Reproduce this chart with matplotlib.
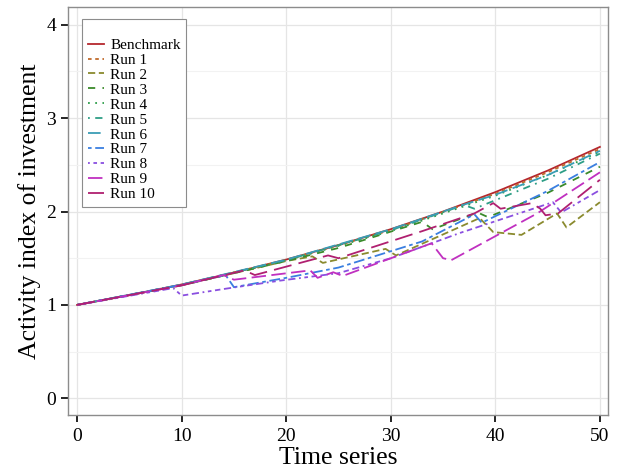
import numpy as np
import matplotlib.pyplot as plt

plt.rcParams['font.family'] = ['Liberation Serif', 'DejaVu Serif']

# data: (time, activity index) breakpoints
bench_t = [0, 5, 10, 15, 20, 25, 30, 35, 40, 45, 50]
bench_v = [1.00, 1.104, 1.219, 1.346, 1.486, 1.641, 1.811, 2.000, 2.208, 2.438, 2.692]

run1_t = [0, 10, 20, 30, 40, 45, 50]
run1_v = [1.00, 1.215, 1.48, 1.80, 2.19, 2.42, 2.67]
run2_t = [0, 10, 20, 22.5, 23.5, 29.5, 30.5, 38.5, 39.8, 42.5, 45.9, 46.8, 50]
run2_v = [1.00, 1.21, 1.47, 1.52, 1.45, 1.60, 1.53, 1.93, 1.78, 1.75, 1.98, 1.83, 2.10]
run3_t = [0, 10, 20, 25, 33, 34, 38.3, 39.3, 45, 50]
run3_v = [1.00, 1.21, 1.47, 1.61, 1.89, 1.81, 1.99, 1.94, 2.20, 2.48]
run4_t = [0, 10, 20, 30, 40, 45, 50]
run4_v = [1.00, 1.215, 1.475, 1.79, 2.17, 2.39, 2.64]
run5_t = [0, 10, 20, 30, 37, 38, 45, 50]
run5_v = [1.00, 1.215, 1.48, 1.80, 2.07, 2.03, 2.35, 2.62]
run6_t = [0, 10, 20, 30, 36.6, 40, 45, 50]
run6_v = [1.00, 1.218, 1.485, 1.81, 2.06, 2.18, 2.39, 2.65]
run7_t = [0, 10, 14.2, 15, 20, 25, 33, 38, 38.7, 45, 50]
run7_v = [1.00, 1.215, 1.32, 1.19, 1.29, 1.40, 1.68, 1.97, 1.88, 2.22, 2.53]
run8_t = [0, 9.2, 10, 14, 19.4, 25, 30, 36.6, 45.5, 46.3, 50]
run8_v = [1.00, 1.18, 1.10, 1.17, 1.26, 1.34, 1.50, 1.77, 2.10, 1.99, 2.23]
run9_t = [0, 10, 14, 15, 22.3, 23, 24.5, 25.4, 33.9, 35, 35.8, 44, 50]
run9_v = [1.00, 1.21, 1.32, 1.27, 1.37, 1.29, 1.35, 1.31, 1.66, 1.50, 1.48, 1.98, 2.42]
run10_t = [0, 10, 16, 17, 24, 25, 33, 38, 39.8, 40.5, 43.5, 44.3, 44.8, 46, 50]
run10_v = [1.00, 1.21, 1.37, 1.32, 1.53, 1.50, 1.79, 1.98, 2.09, 2.03, 2.09, 2.03, 1.96, 1.98, 2.34]

labels = ['Benchmark'] + ['Run %d' % i for i in range(1, 11)]
series = [(bench_t, bench_v), (run1_t, run1_v), (run2_t, run2_v), (run3_t, run3_v),
          (run4_t, run4_v), (run5_t, run5_v), (run6_t, run6_v), (run7_t, run7_v),
          (run8_t, run8_v), (run9_t, run9_v), (run10_t, run10_v)]
colors = ['#B5272D', '#C06A2B', '#8A8A2E', '#3A8A2A', '#2E9E4A', '#2E9E86',
          '#3A9DB5', '#3A7FE0', '#8A4FE0', '#C030C0', '#B02070']
styles = ['-', (0, (2, 2)), (0, (4, 2)), (0, (4, 4)), (0, (1, 3)), (0, (1, 3, 4, 3)),
          (0, (7, 3)), (0, (2, 2, 6, 2)), (0, (1, 2, 2, 2, 3, 2, 4, 2)),
          (0, (8, 3)), (0, (10, 4))]

fig = plt.figure(figsize=(6.19, 4.68), dpi=100)
ax = fig.add_axes([0.110, 0.113, 0.872, 0.872])

for (t, v), lab, c, ls in zip(series, labels, colors, styles):
    ax.plot(t, v, color=c, linestyle=ls, linewidth=1.3, label=lab)

ax.set_xlim(-0.86, 50.76)
ax.set_ylim(-0.18, 4.19)
ax.set_xticks([0, 10, 20, 30, 40, 50])
ax.set_yticks([0, 1, 2, 3, 4])
ax.set_yticks([0.5, 1.5, 2.5, 3.5], minor=True)
ax.grid(True, which='major', color='#E5E5E5', linewidth=0.9)
ax.grid(True, which='minor', axis='y', color='#F2F2F2', linewidth=0.8)
ax.set_axisbelow(True)
for s in ax.spines.values():
    s.set_color('#8C8C8C')
    s.set_linewidth(1.0)
ax.tick_params(which='major', length=5, width=1.2, color='black', labelsize=14)
ax.tick_params(axis='x', pad=4.5)
ax.tick_params(which='minor', length=0)

ax.set_xlabel('Time series', fontsize=18.5, labelpad=1)
ax.set_ylabel('Activity index of investment', fontsize=18.5, labelpad=4)

leg = ax.legend(loc='upper left', bbox_to_anchor=(0.012, 0.99), fontsize=11,
                title=' ', title_fontsize=10,
                handlelength=1.05, handletextpad=0.45, labelspacing=0.08,
                borderpad=0.35, fancybox=False, framealpha=1)
leg.get_frame().set_edgecolor('#8C8C8C')
leg.get_frame().set_linewidth(0.8)

fig.savefig('out.png', dpi=100)
